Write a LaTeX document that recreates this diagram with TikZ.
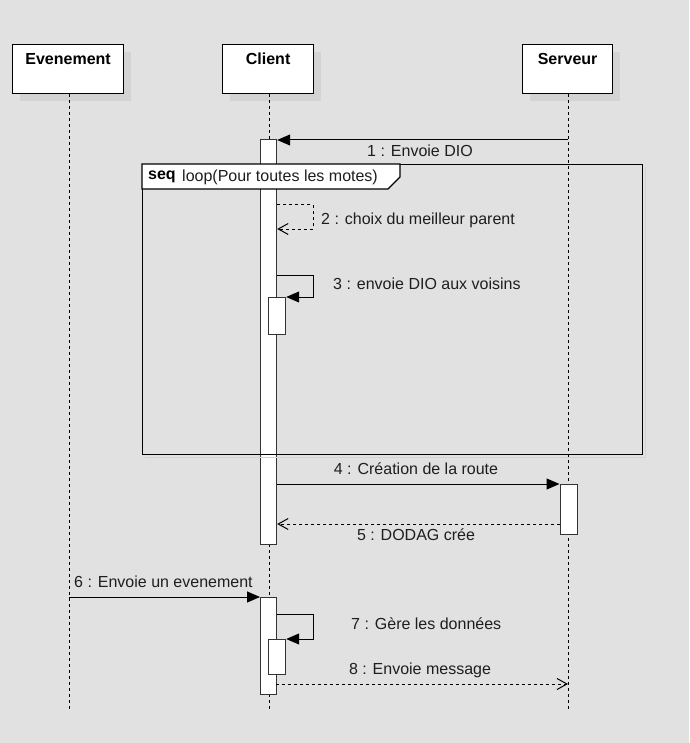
\documentclass[tikz,border=0pt]{standalone}
\usepackage{fontspec}
\setmainfont{Liberation Sans}
\usetikzlibrary{arrows.meta,calc}
\definecolor{bg}{HTML}{E1E1E1}
\definecolor{shadowgray}{HTML}{D3D3D3}
\definecolor{ink}{HTML}{1E1E1E}
\definecolor{barline}{HTML}{333333}

\begin{document}
\begin{tikzpicture}[x=1pt,y=-1pt,
  txt/.style={font=\fontsize{16}{18}\selectfont, text=ink, inner sep=0pt},
  headbox/.style={draw=black, fill=white, line width=1.2pt, inner sep=0pt},
  headtxt/.style={font=\bfseries\fontsize{16}{18}\selectfont, text=black, inner sep=0pt, anchor=base},
  lifeline/.style={draw=black, line width=1pt, dash pattern=on 3pt off 3pt},
  actbar/.style={draw=barline, fill=white, line width=1.2pt, inner sep=0pt},
  callmsg/.style={draw=black, line width=1pt, -{Triangle[length=13pt,width=11pt]}},
  retmsg/.style={draw=black, line width=1pt, dash pattern=on 3pt off 3pt,
    -{Straight Barb[length=10pt,width=11pt,line width=1pt]}},
  framebox/.style={draw=black, line width=1.2pt, inner sep=0pt}
]
  % canvas
  \fill[bg] (0,0) rectangle (689,743);
  \useasboundingbox (0,0) rectangle (689,743);

  % participant shadows
  \fill[shadowgray] (20,52) rectangle (131,101);
  \fill[shadowgray] (230,52) rectangle (321,101);
  \fill[shadowgray] (530,52) rectangle (620,101);

  % participants
  \node[headbox, minimum width=111pt, minimum height=49pt, anchor=north west] (ev) at (12,44) {};
  \node[headbox, minimum width=91pt, minimum height=49pt, anchor=north west] (cl) at (222,44) {};
  \node[headbox, minimum width=90pt, minimum height=49pt, anchor=north west] (sv) at (522,44) {};
  \node[headtxt] (evt) at ($(ev.north)+(0,21)$) {Evenement};
  \node[headtxt] (clt) at ($(cl.north)+(0,21)$) {Client};
  \node[headtxt] (svt) at ($(sv.north)+(0,21)$) {Serveur};

  % lifelines
  \coordinate (evEnd) at (69,712);
  \coordinate (clEnd) at (269,712);
  \coordinate (svEnd) at (568,712);
  \draw[lifeline] (ev.south -| evEnd) -- (evEnd);
  \draw[lifeline] (cl.south -| clEnd) -- (clEnd);
  \draw[lifeline] (sv.south -| svEnd) -- (svEnd);

  % client activation spanning the loop
  \node[actbar, minimum width=16pt, minimum height=405pt, anchor=north west] (act1) at (260,139) {};

  % loop frame
  \draw[shadowgray, line width=1pt] (645,167) -- (645,457) -- (145,457);
  \node[framebox, minimum width=500pt, minimum height=290pt, anchor=north west] (loop) at (142,164) {};
  \draw[framebox, fill=white] (loop.north west) -- (400,164) -- (400,177) -- (388,189) -- (142,189) -- cycle;
  \node[font=\bfseries\fontsize{16}{18}\selectfont, inner sep=0pt, anchor=west] (seqtag) at (148,177) {seq};
  \node[txt, anchor=west] (looptxt) at (182,177) {loop(Pour toutes les motes)};

  % nested and server activations
  \node[actbar, minimum width=17pt, minimum height=37pt, anchor=north west] (act1n) at (268,297) {};
  \node[actbar, minimum width=17pt, minimum height=50pt, anchor=north west] (sact) at (559.5,484) {};
  \node[actbar, minimum width=16pt, minimum height=97pt, anchor=north west] (act2) at (260,597) {};
  \node[actbar, minimum width=17pt, minimum height=35pt, anchor=north west] (act2n) at (268,639) {};

  % 1 : Envoie DIO
  \coordinate (m1) at (568,140);
  \draw[callmsg] (m1) -- (m1 -| act1.east);
  \node[txt] (l1) at (420,151) {1 : Envoie DIO};

  % 2 : choix du meilleur parent
  \coordinate (m2a) at (313,205);
  \coordinate (m2b) at (313,229);
  \draw[retmsg] (m2a -| act1.east) -- (m2a) -- (m2b) -- (m2b -| act1.east);
  \node[txt, anchor=west] (l2) at (321,220) {2 : choix du meilleur parent};

  % 3 : envoie DIO aux voisins
  \coordinate (m3a) at (313,275);
  \draw[callmsg] (m3a -| act1.east) -- (m3a) -- (m3a |- act1n.north) -- (act1n.north east);
  \node[txt, anchor=west] (l3) at (333,284) {3 : envoie DIO aux voisins};

  % 4 : Création de la route
  \draw[callmsg] (sact.north west -| act1.east) -- (sact.north west);
  \node[txt] (l4) at (416,469) {4 : Création de la route};

  % 5 : DODAG crée
  \coordinate (m5) at (559.5,524);
  \draw[retmsg] (m5) -- (m5 -| act1.east);
  \node[txt] (l5) at (416,535) {5 : DODAG crée};

  % 6 : Envoie un evenement
  \draw[callmsg] (act2.north west -| evEnd) -- (act2.north west);
  \node[txt, anchor=west] (l6) at (74,582) {6 : Envoie un evenement};

  % 7 : Gère les données
  \coordinate (m7a) at (313,614);
  \draw[callmsg] (m7a -| act2.east) -- (m7a) -- (m7a |- act2n.north) -- (act2n.north east);
  \node[txt, anchor=west] (l7) at (351,624) {7 : Gère les données};

  % 8 : Envoie message
  \coordinate (m8) at (276,684);
  \draw[retmsg] (m8) -- (m8 -| svEnd);
  \node[txt] (l8) at (420,670) {8 : Envoie message};
\end{tikzpicture}
\end{document}
